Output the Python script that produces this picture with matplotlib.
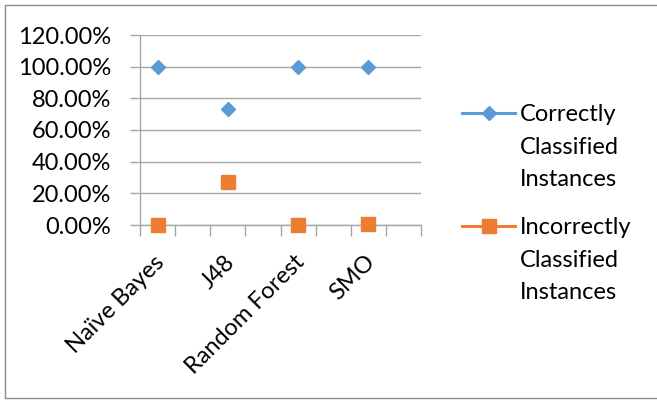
import numpy as np
import matplotlib
matplotlib.use("Agg")
import matplotlib.pyplot as plt
from matplotlib.lines import Line2D
from matplotlib.ticker import FuncFormatter
from matplotlib.transforms import ScaledTranslation

plt.rcParams['font.family'] = ['Lato', 'DejaVu Sans']

categories = ["Naïve Bayes", "", "J48", "", "Random Forest", "", "SMO", ""]
correct = [100.0, np.nan, 73.0, np.nan, 100.0, np.nan, 99.6, np.nan]
incorrect = [0.3, np.nan, 27.0, np.nan, 0.0, np.nan, 0.5, np.nan]
series_names = ["Correctly\nClassified\nInstances", "Incorrectly\nClassified\nInstances"]
yticks = [0, 20, 40, 60, 80, 100, 120]

W, H = 657, 401
FS = 17
fig = plt.figure(figsize=(W / 100, H / 100), dpi=100)

def fx(px):
    return px / W

def fy(py):
    return 1 - py / H

# outer chart border
border = plt.Rectangle((fx(5), fy(398)), 1.2, (398 - 5) / H,
                       transform=fig.transFigure, fill=False, edgecolor='#8c8c8c',
                       linewidth=1.0, clip_on=False)
fig.patches.append(border)

ax = fig.add_axes([fx(140), fy(225), (421 - 140) / W, (225 - 35) / H])

x = np.arange(len(categories))
blue = '#5B9BD5'
orange = '#ED7D31'
styles = [dict(marker='D', markersize=7.6, color=blue),
          dict(marker='s', markersize=10, color=orange)]
for vals, st in zip([correct, incorrect], styles):
    ax.plot(x, vals, linestyle='none', zorder=3, clip_on=False, **st)

ax.set_xlim(-0.5, len(categories) - 0.5)
ax.set_ylim(0, 120)
ax.set_yticks(yticks)
ax.yaxis.set_major_formatter(FuncFormatter(lambda v, p: f"{v:.2f}%"))
ax.grid(axis='y', color='#a6a6a6', linewidth=1.0)
ax.set_axisbelow(True)

# category boundary tick marks
ax.set_xticks(np.arange(-0.5, len(categories), 1.0))
ax.set_xticklabels([])
ax.tick_params(axis='x', which='major', length=8, color='#a6a6a6', width=1.0)
ax.set_xticks(x, minor=True)
ax.set_xticklabels(categories, minor=True, rotation=45, ha='right', va='top',
                   rotation_mode='anchor', fontsize=FS)
ax.tick_params(axis='x', which='minor', length=0, pad=19)
shift = ScaledTranslation(-4 / 100, 0, fig.dpi_scale_trans)
for lab in ax.get_xticklabels(minor=True):
    lab.set_transform(lab.get_transform() + shift)
ax.tick_params(axis='y', length=7, color='#a6a6a6', width=1.0, labelsize=FS, pad=14)

for s in ['top', 'right']:
    ax.spines[s].set_visible(False)
for s in ['left', 'bottom']:
    ax.spines[s].set_color('#a6a6a6')
    ax.spines[s].set_linewidth(1.0)

# legend drawn manually: handle aligned with first text line
legend_tops = [113, 226]
for name, st, yc in zip(series_names, styles, legend_tops):
    fig.add_artist(Line2D([fx(462), fx(515)], [fy(yc), fy(yc)], transform=fig.transFigure,
                          lw=2.2, color=st['color']))
    fig.add_artist(Line2D([fx(488.5)], [fy(yc)], transform=fig.transFigure,
                          linestyle='none', **st))
    fig.text(fx(520), fy(yc - 9), name, fontsize=FS, ha='left', va='top',
             linespacing=1.69)

fig.savefig("out.png", dpi=100)
